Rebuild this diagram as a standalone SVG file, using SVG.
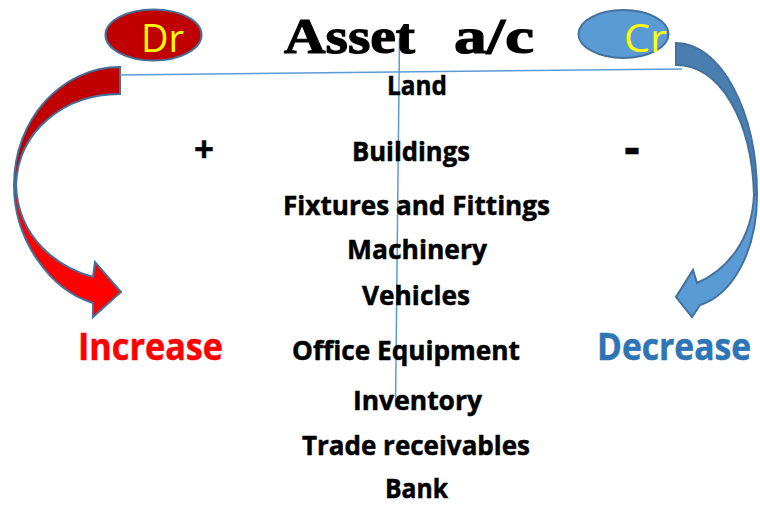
<svg xmlns="http://www.w3.org/2000/svg" width="760" height="508" viewBox="0 0 760 508">
<style>
.item{font-family:"Open Sans","Liberation Sans",sans-serif;font-weight:700;font-size:27px;fill:#000;stroke:#000;stroke-width:0.5}
.side{font-family:"Open Sans","Liberation Sans",sans-serif;font-weight:700;font-size:37px;stroke-width:0.5}
.lbl{font-family:"Open Sans","Liberation Sans",sans-serif;font-size:39px;fill:#FFFF00}
.title{font-family:"Liberation Serif","DejaVu Serif",serif;font-weight:700;font-size:51px;fill:#000;stroke:#000;stroke-width:1.2}
.ln{stroke:#5B9BD5;stroke-width:1.5;fill:none}
.arr{stroke:#41719C;stroke-width:2;stroke-linejoin:miter}
</style>
<defs>
<linearGradient id="gl" gradientUnits="userSpaceOnUse" x1="0" y1="67" x2="0" y2="317">
<stop offset="0.47" stop-color="#C00000"/><stop offset="0.47" stop-color="#FF0000"/>
</linearGradient>
<linearGradient id="gr" gradientUnits="userSpaceOnUse" x1="0" y1="43" x2="0" y2="317">
<stop offset="0.56" stop-color="#4A7DB0"/><stop offset="0.56" stop-color="#5B9BD5"/>
</linearGradient>
</defs>
<rect width="760" height="508" fill="#fff"/>
<g id="connectors">
<path class="arr" fill="url(#gl)" d="M120,67 C61,67 14,120 14,185 C14,240 50,290 93,303 L93,317 L121,292 L95,262 L93,277 C60,268 18,240 16,185 C18,130 65,94 120,94 Z"/>
<path class="arr" fill="url(#gr)" d="M676,43 C720,43 757,110 757,195 C757,252 732,295 700,305 L692,317 L676,297 L693,270 L697,283 C727,270 752,240 754,195 C752,120 720,65 676,65 Z"/>
<line class="ln" x1="120" y1="75" x2="682" y2="69"/>
<line class="ln" x1="399.5" y1="38" x2="395.5" y2="407"/>
</g>
<g id="dr">
<ellipse cx="153.5" cy="35" rx="48" ry="25.5" fill="#C00000" stroke="#41719C" stroke-width="2"/>
<text class="lbl" x="141" y="52" textLength="43" lengthAdjust="spacingAndGlyphs">Dr</text>
</g>
<g id="cr">
<ellipse cx="623.5" cy="34" rx="45" ry="24" fill="#5B9BD5" stroke="#41719C" stroke-width="2"/>
<text class="lbl" x="624" y="52" textLength="43" lengthAdjust="spacingAndGlyphs">Cr</text>
</g>
<g id="title">
<text class="title" x="284" y="53" textLength="131" lengthAdjust="spacingAndGlyphs">Asset</text>
<text class="title" x="454" y="53" textLength="80" lengthAdjust="spacingAndGlyphs">a/c</text>
</g>
<g id="signs">
<text class="item" x="204" y="162" text-anchor="middle" style="font-size:35px">+</text>
<text class="item" x="632" y="164" text-anchor="middle" style="font-size:48px">-</text>
</g>
<g id="increase"><text class="side" x="78" y="360" fill="#FF0000" stroke="#FF0000" textLength="145" lengthAdjust="spacingAndGlyphs">Increase</text></g>
<g id="decrease"><text class="side" x="597" y="360" fill="#2E75B6" stroke="#2E75B6" textLength="154" lengthAdjust="spacingAndGlyphs">Decrease</text></g>
<g id="items">
<text class="item" x="387" y="95" textLength="60" lengthAdjust="spacingAndGlyphs">Land</text>
<text class="item" x="352" y="161" textLength="118" lengthAdjust="spacingAndGlyphs">Buildings</text>
<text class="item" x="283" y="215" textLength="267" lengthAdjust="spacingAndGlyphs">Fixtures and Fittings</text>
<text class="item" x="347" y="259" textLength="140" lengthAdjust="spacingAndGlyphs">Machinery</text>
<text class="item" x="362" y="305" textLength="108" lengthAdjust="spacingAndGlyphs">Vehicles</text>
<text class="item" x="292" y="360" textLength="228" lengthAdjust="spacingAndGlyphs">Office Equipment</text>
<text class="item" x="353" y="410" textLength="129" lengthAdjust="spacingAndGlyphs">Inventory</text>
<text class="item" x="302" y="455" textLength="228" lengthAdjust="spacingAndGlyphs">Trade receivables</text>
<text class="item" x="385" y="498" textLength="63" lengthAdjust="spacingAndGlyphs">Bank</text>
</g>
</svg>
